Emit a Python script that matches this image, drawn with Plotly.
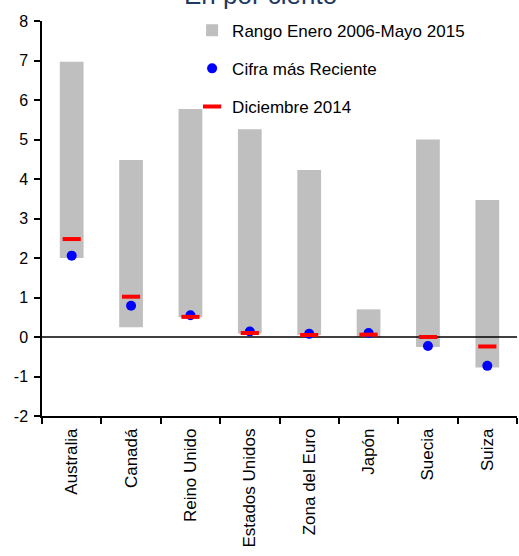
import plotly.graph_objects as go

categories = ["Australia", "Canadá", "Reino Unido", "Estados Unidos",
              "Zona del Euro", "Japón", "Suecia", "Suiza"]
range_low = [2.0, 0.25, 0.50, 0.09, 0.05, 0.0, -0.25, -0.77]
range_high = [6.97, 4.48, 5.77, 5.26, 4.23, 0.70, 5.00, 3.47]
latest = [2.06, 0.79, 0.55, 0.14, 0.08, 0.10, -0.23, -0.73]
dec_2014 = [2.48, 1.02, 0.51, 0.10, 0.05, 0.06, 0.00, -0.24]
y_tickvals = [-2, -1, 0, 1, 2, 3, 4, 5, 6, 7, 8]
y_ticktext = ["-2", "-1", "0", "1", "2", "3", "4", "5", "6", "7", "8"]

idx = list(range(len(categories)))
FONT = "Liberation Sans, Arial, sans-serif"

fig = go.Figure()
fig.add_trace(go.Bar(
    x=idx, y=[h - l for h, l in zip(range_high, range_low)], base=range_low,
    width=0.4, marker=dict(color="#bfbfbf", line=dict(width=0)),
    name="Rango Enero 2006-Mayo 2015", legendgroup="a"))
fig.add_trace(go.Scatter(
    x=[-0.5, len(categories) - 0.5], y=[0, 0], mode="lines",
    line=dict(color="black", width=1.5), showlegend=False, hoverinfo="skip"))
fig.add_trace(go.Scatter(
    x=idx, y=latest, mode="markers",
    marker=dict(color="#0000ff", size=10, line=dict(width=0)),
    name="Cifra más Reciente", legendgroup="b"))
fig.add_trace(go.Scatter(
    x=idx, y=dec_2014, mode="markers",
    marker=dict(symbol="line-ew", size=13, line=dict(color="#ff0000", width=4)),
    name="Diciembre 2014", legendgroup="c"))

fig.add_annotation(text="En por ciento", xref="paper", yref="paper",
                   x=0.461, y=1.0228, xanchor="center", yanchor="bottom",
                   showarrow=False, font=dict(family=FONT, size=26, color="#1F3A60"))

fig.update_layout(
    width=519, height=556,
    margin=dict(l=42, r=2, t=21, b=140),
    paper_bgcolor="white", plot_bgcolor="white",
    font=dict(family=FONT, size=16, color="black"),
    showlegend=True,
    legend=dict(x=0.316, y=1.021, xanchor="left", yanchor="top",
                bgcolor="rgba(0,0,0,0)", traceorder="grouped",
                tracegroupgap=13, font=dict(size=17)),
)
fig.update_xaxes(
    range=[-0.5, len(categories) - 0.5],
    tickmode="array", tickvals=idx, ticktext=categories,
    tickangle=-90, ticks="", ticklabelstandoff=4,
    tickfont=dict(size=17),
    showline=True, linecolor="black", linewidth=1.5,
    showgrid=False, zeroline=False,
    minor=dict(tickmode="linear", tick0=-0.5, dtick=1, ticks="outside",
               ticklen=6, tickcolor="black", tickwidth=1.5, showgrid=False),
)
fig.update_yaxes(
    range=[-2, 8], tickmode="array", tickvals=y_tickvals, ticktext=y_ticktext,
    ticks="outside", ticklen=6, tickcolor="black", tickwidth=1.5,
    ticklabelstandoff=3,
    showline=True, linecolor="black", linewidth=1.5,
    showgrid=False, zeroline=False,
)

fig.write_html("out.html")
